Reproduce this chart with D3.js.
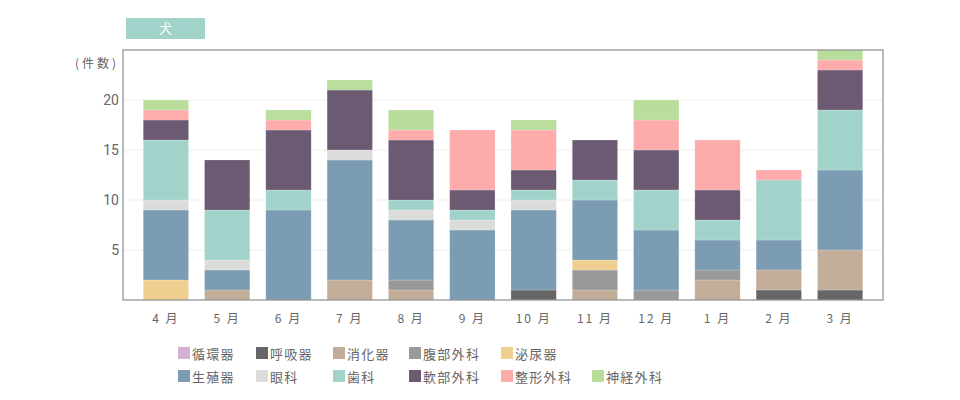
<!DOCTYPE html>
<html lang="ja">
<head>
    <meta charset="UTF-8">
    <title>犬</title>
    <style>
        body,
        html {
            margin: 0;
            padding: 0;
            background: #fff;
        }
        text {
            font-family: "Noto Sans CJK JP", "Noto Sans", sans-serif;
            fill: #666;
        }
    </style>
    <script src="https://d3js.org/d3.v7.min.js"></script>
</head>
<body>
<div id="chart"></div>
<script>
    // 月ごとの件数 (4月〜3月)
    const months = ['4月', '5月', '6月', '7月', '8月', '9月', '10月', '11月', '12月', '1月', '2月', '3月'];

    const junkanki   = [0, 0, 0, 0, 0, 0, 0, 0, 0, 0, 0, 0];   // 循環器
    const kokyuki    = [0, 0, 0, 0, 0, 0, 1, 0, 0, 0, 1, 1];   // 呼吸器
    const shokaki    = [0, 1, 0, 2, 1, 0, 0, 1, 0, 2, 2, 4];   // 消化器
    const fukubu     = [0, 0, 0, 0, 1, 0, 0, 2, 1, 1, 0, 0];   // 腹部外科
    const hinyoki    = [2, 0, 0, 0, 0, 0, 0, 1, 0, 0, 0, 0];   // 泌尿器
    const seishokki  = [7, 2, 9, 12, 6, 7, 8, 6, 6, 3, 3, 8];  // 生殖器
    const ganka      = [1, 1, 0, 1, 1, 1, 1, 0, 0, 0, 0, 0];   // 眼科
    const shika      = [6, 5, 2, 0, 1, 1, 1, 2, 4, 2, 6, 6];   // 歯科
    const nanbu      = [2, 5, 6, 6, 6, 2, 2, 4, 4, 3, 0, 4];   // 軟部外科
    const seikei     = [1, 0, 1, 0, 1, 6, 4, 0, 3, 5, 1, 1];   // 整形外科
    const shinkei    = [1, 0, 1, 1, 2, 0, 1, 0, 2, 0, 0, 1];   // 神経外科

    const yTicks = [5, 10, 15, 20];

    const series = [
        {name: '循環器', values: junkanki, color: '#d4b1d4'},
        {name: '呼吸器', values: kokyuki, color: '#666666'},
        {name: '消化器', values: shokaki, color: '#c2ad99'},
        {name: '腹部外科', values: fukubu, color: '#999999'},
        {name: '泌尿器', values: hinyoki, color: '#efcf8f'},
        {name: '生殖器', values: seishokki, color: '#7b9cb2'},
        {name: '眼科', values: ganka, color: '#dbdbd9'},
        {name: '歯科', values: shika, color: '#a1d3ca'},
        {name: '軟部外科', values: nanbu, color: '#6b5a72'},
        {name: '整形外科', values: seikei, color: '#fdabab'},
        {name: '神経外科', values: shinkei, color: '#b9de9b'}
    ];

    const width = 960, height = 400;
    const plot = {left: 123, right: 883, top: 50, bottom: 300};

    const svg = d3.select('#chart').append('svg')
        .attr('width', width).attr('height', height);

    // title badge
    svg.append('rect')
        .attr('x', 126).attr('y', 18).attr('width', 79).attr('height', 21)
        .attr('fill', '#a1d3ca');
    svg.append('text')
        .attr('x', 165.5).attr('y', 33)
        .attr('text-anchor', 'middle')
        .style('fill', '#fff')
        .style('font-size', '13px')
        .text('犬');

    const table = months.map((m, i) => {
        const row = {month: m};
        series.forEach(s => row[s.name] = s.values[i]);
        return row;
    });

    const stack = d3.stack().keys(series.map(s => s.name));
    const layers = stack(table);

    const x = d3.scaleBand()
        .domain(months)
        .range([plot.left, plot.right])
        .paddingInner(0.26)
        .paddingOuter(0.33);

    const y = d3.scaleLinear()
        .domain([0, 25])
        .range([plot.bottom, plot.top]);

    // grid
    svg.append('g')
        .selectAll('line')
        .data(yTicks)
        .join('line')
        .attr('x1', plot.left).attr('x2', plot.right)
        .attr('y1', d => y(d)).attr('y2', d => y(d))
        .attr('stroke', '#eeeeee')
        .attr('stroke-width', 1);

    // y axis labels
    const yAxis = svg.append('g')
        .attr('transform', `translate(${plot.left},0)`)
        .call(d3.axisLeft(y).tickValues(yTicks).tickSize(0).tickPadding(4));
    yAxis.select('.domain').remove();
    yAxis.selectAll('text')
        .style('font-family', 'Roboto, "Noto Sans", sans-serif')
        .style('font-size', '14px')
        .style('fill', '#666');

    svg.append('text')
        .attr('x', 75).attr('y', 68)
        .style('font-size', '12px')
        .style('letter-spacing', '3px')
        .text('(件数)');

    // bars
    const color = d3.scaleOrdinal()
        .domain(series.map(s => s.name))
        .range(series.map(s => s.color));

    svg.append('g')
        .selectAll('g')
        .data(layers)
        .join('g')
        .attr('fill', d => color(d.key))
        .selectAll('rect')
        .data(d => d)
        .join('rect')
        .attr('x', d => x(d.data.month))
        .attr('width', x.bandwidth())
        .attr('y', d => y(d[1]))
        .attr('height', d => y(d[0]) - y(d[1]))
        .attr('stroke', 'rgba(255,255,255,0.35)')
        .attr('stroke-width', 0.6);

    // frame
    svg.append('rect')
        .attr('x', plot.left).attr('y', plot.top)
        .attr('width', plot.right - plot.left)
        .attr('height', plot.bottom - plot.top)
        .attr('fill', 'none')
        .attr('stroke', '#8c8c8c')
        .attr('stroke-width', 1.2);

    // x axis labels
    const xAxis = svg.append('g')
        .attr('transform', `translate(0,${plot.bottom})`)
        .call(d3.axisBottom(x).tickSize(0).tickPadding(14)
            .tickFormat(d => d.replace(/(\d+)/, '$1 ')));
    xAxis.select('.domain').remove();
    xAxis.selectAll('text')
        .style('font-family', '"Noto Sans CJK JP", sans-serif')
        .style('font-size', '12px')
        .style('letter-spacing', '2px')
        .style('fill', '#666');

    // legend (2 rows)
    const rows = [series.slice(0, 5), series.slice(5)];
    const colX = [178, 256, 333, 409, 501, 592];
    rows.forEach((row, r) => {
        const g = svg.append('g')
            .attr('transform', `translate(0,${347 + r * 23})`);
        row.forEach((s, i) => {
            g.append('rect')
                .attr('x', colX[i]).attr('y', 0)
                .attr('width', 12).attr('height', 12)
                .attr('fill', s.color);
            g.append('text')
                .attr('x', colX[i] + 14).attr('y', 11.5)
                .style('font-size', '13px')
                .style('letter-spacing', '1.3px')
                .text(s.name);
        });
    });
</script>
</body>
</html>
